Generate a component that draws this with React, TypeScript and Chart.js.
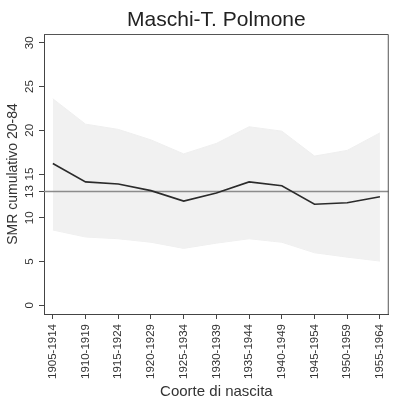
import React, { useEffect, useRef } from "react";
import { Chart, registerables } from "chart.js";

Chart.register(...registerables);

const categories = [
  "1905-1914", "1910-1919", "1915-1924", "1920-1929", "1925-1934", "1930-1939",
  "1935-1944", "1940-1949", "1945-1954", "1950-1959", "1955-1964",
];
const smr = [16.2, 14.1, 13.86, 13.1, 11.9, 12.83, 14.1, 13.66, 11.54, 11.72, 12.4];
const upper = [23.6, 20.7, 20.1, 18.9, 17.3, 18.5, 20.4, 19.9, 17.05, 17.7, 19.7];
const lower = [8.6, 7.8, 7.6, 7.2, 6.5, 7.1, 7.6, 7.2, 6.0, 5.5, 5.05];
const refValue = 13;
const yTicks = [0, 5, 10, 13, 15, 20, 25, 30];
const xMin = -0.27;
const xMax = 10.27;

const FONT = "'Liberation Sans', Arial, sans-serif";
const TEXT = "#333";

const framePlugin = {
  id: "frame",
  afterDraw(chart: any) {
    const { ctx, chartArea } = chart;
    ctx.save();
    ctx.strokeStyle = "#555";
    ctx.lineWidth = 1;
    ctx.beginPath();
    ctx.moveTo(chartArea.left, chartArea.top + 0.5);
    ctx.lineTo(chartArea.right - 0.5, chartArea.top + 0.5);
    ctx.lineTo(chartArea.right - 0.5, chartArea.bottom);
    ctx.stroke();
    ctx.restore();
  },
};

export default function App() {
  const ref = useRef<HTMLCanvasElement>(null);
  useEffect(() => {
    const chart = new Chart(ref.current!, {
      type: "line",
      data: {
        datasets: [
          {
            label: "lower",
            data: lower.map((v, i) => ({ x: i, y: v })),
            borderColor: "#efefef",
            borderWidth: 1,
            pointRadius: 0,
            fill: false,
            order: 3,
          },
          {
            label: "upper",
            data: upper.map((v, i) => ({ x: i, y: v })),
            borderColor: "#efefef",
            borderWidth: 1,
            backgroundColor: "#f1f1f1",
            pointRadius: 0,
            fill: "-1",
            order: 2,
          },
          {
            label: "ref",
            data: [{ x: xMin, y: refValue }, { x: xMax, y: refValue }],
            borderColor: "#8c8c8c",
            borderWidth: 1.5,
            pointRadius: 0,
            fill: false,
            order: 1,
          },
          {
            label: "SMR",
            data: smr.map((v, i) => ({ x: i, y: v })),
            borderColor: "#2b2b2b",
            borderWidth: 1.6,
            pointRadius: 0,
            fill: false,
            order: 0,
          },
        ],
      },
      options: {
        animation: false,
        responsive: true,
        maintainAspectRatio: false,
        layout: { padding: { left: 0, right: 1, top: 0, bottom: 0 } },
        plugins: {
          legend: { display: false },
          tooltip: { enabled: false },
          title: {
            display: true,
            text: "Maschi-T. Polmone",
            fullSize: false,
            color: "#222",
            font: { family: FONT, size: 21, weight: "normal" },
            padding: { top: 8, bottom: 0.8 },
          },
        },
        scales: {
          x: {
            type: "linear",
            min: xMin,
            max: xMax,
            afterBuildTicks: (scale: any) => {
              scale.ticks = categories.map((_, i) => ({ value: i }));
            },
            afterFit: (scale: any) => {
              scale.height = 89;
            },
            ticks: {
              autoSkip: false,
              minRotation: 90,
              maxRotation: 90,
              padding: 5,
              color: TEXT,
              font: { family: FONT, size: 11.5 },
              callback: (v: any) => categories[v as number] ?? "",
            },
            grid: { drawOnChartArea: false, drawTicks: true, tickLength: 5, color: "#444" },
            border: { display: true, color: "#444", width: 1 },
            title: {
              display: true,
              text: "Coorte di nascita",
              color: TEXT,
              font: { family: FONT, size: 15 },
              padding: { top: 0, bottom: 2 },
            },
          },
          y: {
            type: "linear",
            min: -1,
            max: 31,
            afterBuildTicks: (scale: any) => {
              scale.ticks = yTicks.map((v) => ({ value: v }));
            },
            afterFit: (scale: any) => {
              scale.width = 44;
            },
            ticks: {
              autoSkip: false,
              minRotation: 90,
              maxRotation: 90,
              crossAlign: "center",
              padding: 3,
              color: TEXT,
              font: { family: FONT, size: 11.5 },
            },
            grid: { drawOnChartArea: false, drawTicks: true, tickLength: 5, color: "#444" },
            border: { display: true, color: "#444", width: 1 },
            title: {
              display: true,
              text: "SMR cumulativo 20-84",
              color: TEXT,
              font: { family: FONT, size: 14 },
              padding: { top: 5, bottom: 0 },
            },
          },
        },
      },
      plugins: [framePlugin],
    } as any);
    return () => chart.destroy();
  }, []);
  return (
    <div style={{ position: "absolute", left: 0, top: 0, width: 399, height: 403, background: "#fff" }}>
      <canvas ref={ref} style={{ display: "block" }} />
    </div>
  );
}
